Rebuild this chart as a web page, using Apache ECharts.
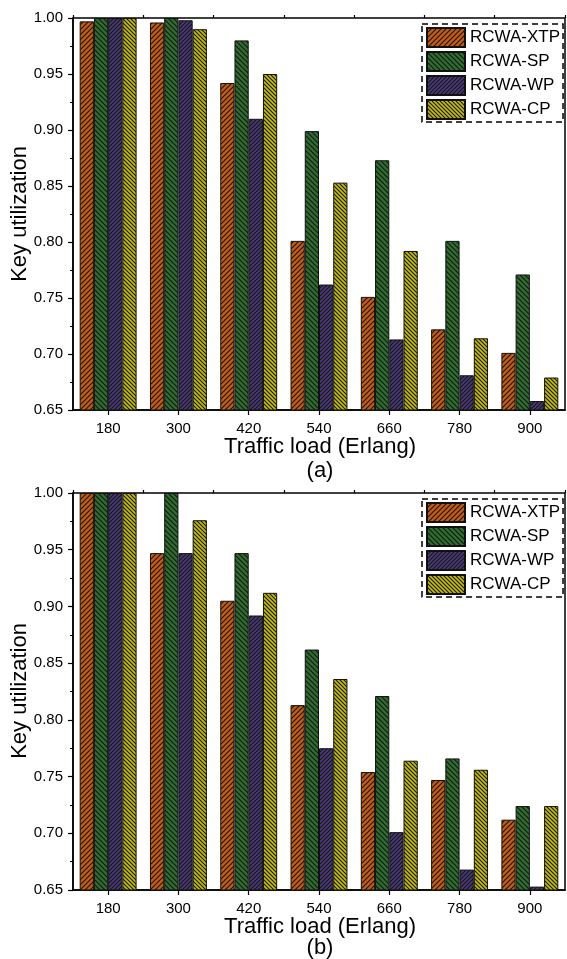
<!DOCTYPE html>
<html>
<head>
<meta charset="utf-8">
<script src="https://cdn.jsdelivr.net/npm/echarts@6/dist/echarts.min.js"></script>
<style>
html,body{margin:0;padding:0;background:#fff;}
#c{width:567px;height:959px;}
</style>
</head>
<body>
<div id="c"></div>
<script>
// ---- data ----
var categories = ['180', '300', '420', '540', '660', '780', '900'];
var seriesNames = ['RCWA-XTP', 'RCWA-SP', 'RCWA-WP', 'RCWA-CP'];
// panel (a)
var aXTP = [0.997, 0.996, 0.942, 0.801, 0.751, 0.722, 0.701];
var aSP  = [1.000, 1.000, 0.980, 0.899, 0.873, 0.801, 0.771];
var aWP  = [1.000, 0.998, 0.910, 0.762, 0.713, 0.681, 0.658];
var aCP  = [1.000, 0.990, 0.950, 0.853, 0.792, 0.714, 0.679];
// panel (b)
var bXTP = [1.000, 0.947, 0.905, 0.813, 0.754, 0.747, 0.712];
var bSP  = [1.000, 1.000, 0.947, 0.862, 0.821, 0.766, 0.724];
var bWP  = [1.000, 0.947, 0.892, 0.775, 0.701, 0.668, 0.653];
var bCP  = [1.000, 0.976, 0.912, 0.836, 0.764, 0.756, 0.724];
var yMin = 0.65, yMax = 1.00, yStep = 0.05;

// ---- styles ----
var FONT = "'Liberation Sans', Arial, sans-serif";
function hatch(bg, size, dir) {
  var cv = document.createElement('canvas');
  cv.width = size; cv.height = size;
  var g = cv.getContext('2d');
  g.fillStyle = bg; g.fillRect(0, 0, size, size);
  g.strokeStyle = '#151515'; g.lineWidth = 1.1;
  g.beginPath();
  if (dir === '/') {
    g.moveTo(-1, size + 1); g.lineTo(size + 1, -1);
    g.moveTo(-1, 1); g.lineTo(1, -1);
    g.moveTo(size - 1, size + 1); g.lineTo(size + 1, size - 1);
  } else {
    g.moveTo(-1, -1); g.lineTo(size + 1, size + 1);
    g.moveTo(size - 1, -1); g.lineTo(size + 1, 1);
    g.moveTo(-1, size - 1); g.lineTo(1, size + 1);
  }
  g.stroke();
  return { image: cv, repeat: 'repeat' };
}
var fills = [
  hatch('#c55c10', 5, '/'),
  hatch('#2e6e2e', 5, '\\'),
  hatch('#4b3a7a', 4, '/'),
  hatch('#c6bf00', 4, '\\')
];

var grids = [
  { left: 73, top: 18, width: 492, height: 392, show: true, borderColor: '#000', borderWidth: 1.5 },
  { left: 73, top: 493, width: 492, height: 397, show: true, borderColor: '#000', borderWidth: 1.5 }
];

var xAxes = [], yAxes = [];
[0, 1].forEach(function (gi) {
  xAxes.push({
    type: 'category', gridIndex: gi, data: categories,
    axisLine: { show: true, lineStyle: { color: '#000', width: 1.5 } },
    axisTick: { show: true, alignWithLabel: true, length: 5, lineStyle: { color: '#000', width: 1.2 } },
    axisLabel: { color: '#000', fontSize: 15, fontFamily: FONT, margin: 11 },
    splitLine: { show: false }
  });
  xAxes.push({
    type: 'category', gridIndex: gi, data: categories,
    axisLine: { show: false },
    axisTick: { show: true, length: 3, lineStyle: { color: '#000', width: 1.2 } },
    axisLabel: { show: false },
    splitLine: { show: false }
  });
  yAxes.push({
    type: 'value', gridIndex: gi, min: yMin, max: yMax, interval: yStep,
    axisLine: { show: true, lineStyle: { color: '#000', width: 1.5 } },
    axisTick: { show: true, length: 5, lineStyle: { color: '#000', width: 1.2 } },
    minorTick: { show: true, splitNumber: 2, length: 3, lineStyle: { color: '#000', width: 1 } },
    axisLabel: { color: '#000', fontSize: 15, fontFamily: FONT, margin: 10,
      formatter: function (v) { return v.toFixed(2); } },
    splitLine: { show: false }
  });
});

var panelData = [[aXTP, aSP, aWP, aCP], [bXTP, bSP, bWP, bCP]];
var series = [];
panelData.forEach(function (arrs, gi) {
  arrs.forEach(function (arr, si) {
    series.push({
      type: 'bar', name: seriesNames[si],
      xAxisIndex: gi * 2, yAxisIndex: gi,
      data: arr,
      barGap: '0%', barCategoryGap: '19%',
      itemStyle: { color: fills[si], borderColor: '#111', borderWidth: 1 },
      emphasis: { disabled: true },
      animation: false
    });
  });
});

function legendAt(top) {
  return {
    data: seriesNames, orient: 'vertical', left: 422, top: top,
    itemWidth: 38, itemHeight: 19, itemGap: 3, padding: [3, 3, 2, 4],
    borderColor: '#000', borderWidth: 1.5, borderType: [6, 4],
    textStyle: { color: '#000', fontSize: 17, fontFamily: FONT },
    icon: 'rect', selectedMode: false
  };
}

function txt(x, y, s, rot) {
  return {
    type: 'text', x: x, y: y, rotation: rot || 0,
    style: { text: s, font: '22px ' + FONT, fill: '#000', textAlign: 'center', textVerticalAlign: 'middle' }
  };
}

var chart = echarts.init(document.getElementById('c'), null, { renderer: 'canvas' });
chart.setOption({
  backgroundColor: '#fff',
  animation: false,
  grid: grids,
  xAxis: xAxes,
  yAxis: yAxes,
  legend: [legendAt(24), legendAt(499)],
  series: series,
  graphic: [
    txt(320, 447, 'Traffic load (Erlang)'),
    txt(320, 471, '(a)'),
    txt(320, 927, 'Traffic load (Erlang)'),
    txt(320, 948, '(b)'),
    txt(20, 214, 'Key utilization', Math.PI / 2),
    txt(20, 691, 'Key utilization', Math.PI / 2)
  ]
});
</script>
</body>
</html>
